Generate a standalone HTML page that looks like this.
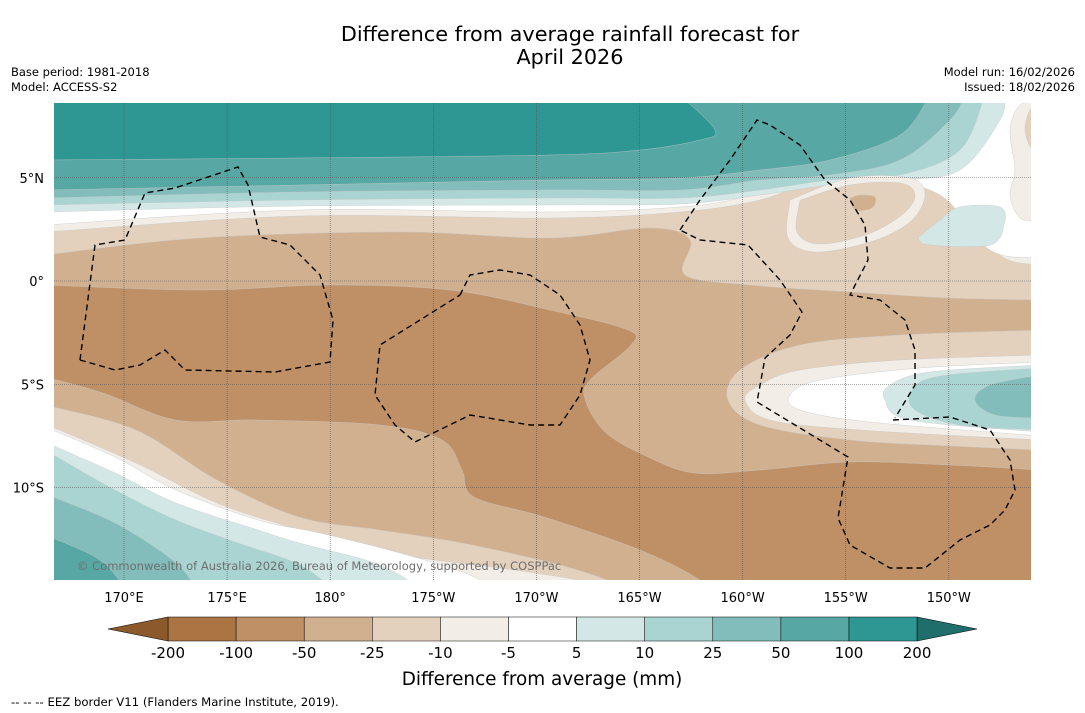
<!DOCTYPE html>
<html><head><meta charset="utf-8">
<style>
body{margin:0;background:#fff;width:1085px;height:713px;overflow:hidden;font-family:"DejaVu Sans","Liberation Sans",sans-serif;}
svg{position:absolute;left:0;top:0;font-family:"DejaVu Sans","Liberation Sans",sans-serif}
</style></head>
<body>
<svg id="s" width="1085" height="713" xmlns="http://www.w3.org/2000/svg">
<defs><clipPath id="mc"><rect x="54" y="103" width="977" height="477"/></clipPath></defs>
<text x="570" y="41" text-anchor="middle" font-size="20.8" fill="#000">Difference from average rainfall forecast for</text>
<text x="570" y="64" text-anchor="middle" font-size="20.8" fill="#000">April 2026</text>
<text x="11" y="76" font-size="11.5">Base period: 1981-2018</text>
<text x="11" y="91" font-size="11.5">Model: ACCESS-S2</text>
<text x="1075" y="76" font-size="11.5" text-anchor="end">Model run: 16/02/2026</text>
<text x="1075" y="91" font-size="11.5" text-anchor="end">Issued: 18/02/2026</text>
<g id="map" clip-path="url(#mc)"></g>
<g id="grid"></g>
<g id="eez"></g>
<text x="77" y="570" font-size="11.5" fill="#6e6e6e">© Commonwealth of Australia 2026, Bureau of Meteorology, supported by COSPPac</text>
<g id="axes"></g>
<g id="cbar"></g>
<text x="542" y="685" text-anchor="middle" font-size="18.4">Difference from average (mm)</text>
<text x="11" y="706" font-size="11.7">--  --  -- EEZ border V11 (Flanders Marine Institute, 2019).</text>
</svg>
<script>
const NS="http://www.w3.org/2000/svg";
const lonLabels=["170°E","175°E","180°","175°W","170°W","165°W","160°W","155°W","150°W"];
const lonValues=[170,175,180,185,190,195,200,205,210];
const latLabels=["5°N","0°","5°S","10°S"];
const latValues=[5,0,-5,-10];
const cbBounds=["-200","-100","-50","-25","-10","-5","5","10","25","50","100","200"];
const cbColors=["#aa7542","#bf9066","#d1b090","#e3d0bd","#f2ede6","#ffffff","#d3e8e6","#a9d4d2","#82bdbb","#57a7a5","#2e9793"];
const cbExtend=["#8c5a2a","#1f6e6b"];
const xOf=lon=>124+(lon-170)*20.62;
const yOf=lat=>281-lat*20.65;
function el(t,a,p){const e=document.createElementNS(NS,t);for(const k in a)e.setAttribute(k,a[k]);(p||document.getElementById('s')).appendChild(e);return e;}
function smooth(pts){let d="M"+pts[0][0]+","+pts[0][1];for(let i=0;i<pts.length-1;i++){const p0=pts[i-1]||pts[i],p1=pts[i],p2=pts[i+1],p3=pts[i+2]||p2;
d+=" C"+(p1[0]+(p2[0]-p0[0])/6)+","+(p1[1]+(p2[1]-p0[1])/6)+" "+(p2[0]-(p3[0]-p1[0])/6)+","+(p2[1]-(p3[1]-p1[1])/6)+" "+p2[0]+","+p2[1];}return d;}
const map=document.getElementById('map');
const C=cbColors;
const N=[[1040,95],[45,95]];
const B=[[45,595]];
const layers=[
 [C[1],[[45,100],[1040,100]],[[1040,590],[45,590]]],
 [C[2],[[45,285],[200,290],[330,285],[450,290],[550,310],[628,330],[630,346],[590,380],[585,399],[605,432],[646,456],[694,473],[760,470],[850,462],[950,465],[1040,470]],N],
 [C[3],[[45,255],[200,238],[400,232],[550,238],[650,228],[690,240],[685,275],[750,285],[850,292],[950,298],[1040,300]],N],
 [C[4],[[45,232],[300,216],[550,218],[680,212],[760,200],[820,180],[900,182],[960,200],[1000,255],[1040,265]],N],
 [C[5],[[45,225],[300,210],[550,212],[680,207],[740,198],[790,182],[870,180],[940,195],[990,250],[1040,258]],N],
 [C[6],[[45,212],[300,206],[550,205],[680,204],[760,195],[830,185],[900,180],[960,170],[1000,120],[1005,95]],[[45,95]]],
 [C[7],[[45,205],[300,200],[550,198],[680,198],[760,190],[830,180],[900,175],[960,150],[985,95]],[[45,95]]],
 [C[8],[[45,198],[300,192],[550,190],[680,190],[760,180],[830,175],[900,160],[950,120],[965,95]],[[45,95]]],
 [C[9],[[45,190],[300,185],[550,180],[680,178],[760,170],[830,160],[900,135],[930,95]],[[45,95]]],
 [C[10],[[45,160],[300,158],[550,155],[640,150],[700,140],[715,130],[680,95]],[[45,95]]],
 // south-left cascade
 [C[2],[[45,377],[103,393],[176,420],[258,420],[380,425],[442,440],[462,470],[474,497],[544,517],[640,550],[700,580],[710,595]],B],
 [C[3],[[45,405],[136,430],[217,480],[299,517],[380,530],[462,543],[560,565],[620,585],[630,595]],B],
 [C[4],[[45,424],[136,463],[217,503],[299,530],[340,543],[420,558],[500,568],[585,582],[590,595]],B],
 [C[5],[[45,427],[115,457],[176,490],[258,520],[320,533],[400,553],[470,575],[500,595]],B],
 [C[6],[[45,442],[115,473],[176,503],[258,530],[299,543],[380,565],[430,595]],B],
 [C[7],[[45,450],[115,490],[176,520],[238,543],[300,565],[340,595]],B],
 [C[8],[[45,494],[115,523],[176,563],[200,595]],B],
 [C[9],[[45,535],[100,560],[130,595]],B],
 // right blob
 [C[3],[[1040,330],[900,335],[800,345],[740,370],[728,400],[760,425],[850,440],[950,446],[1040,450]],[]],
 [C[4],[[1040,355],[900,360],[800,370],[760,385],[745,400],[770,420],[860,430],[1040,440]],[]],
 [C[5],[[1040,362],[920,368],[820,380],[790,395],[800,410],[870,422],[1040,436]],[]],
 [C[6],[[1040,365],[930,372],[890,385],[885,400],[910,420],[1040,432]],[]],
 [C[7],[[1040,368],[940,376],[912,390],[915,410],[960,425],[1040,430]],[]],
 [C[8],[[1040,375],[990,385],[975,400],[995,415],[1040,418]],[]],
 // north-right blobs
 [C[4],[[790,200],[850,178],[910,178],[925,195],[910,222],[870,242],[815,252],[788,238],[790,200]],[]],
 [C[3],[[800,200],[850,185],[900,183],[915,195],[903,214],[868,234],[820,244],[797,232],[800,200]],[]],
 [C[2],[[850,198],[860,195],[875,197],[872,208],[855,210],[850,198]],[]],
 [C[6],[[918,238],[940,220],[960,207],[1000,207],[1004,225],[990,245],[930,245],[918,238]],[]],
 [C[4],[[1040,100],[1020,105],[1010,130],[1015,170],[1010,195],[1020,218],[1040,220]],[]],
 [C[3],[[1040,105],[1030,110],[1025,130],[1032,150],[1040,150]],[]],
];
layers.forEach((L,i)=>{let d=smooth(L[1]);L[2].forEach(p=>d+=" L"+p[0]+","+p[1]);d+=" Z";
 const p=el('path',{d:d,fill:L[0],stroke:"#c8c8c8","stroke-width":0.4},map);
 
 });
const grid=document.getElementById('grid'),axes=document.getElementById('axes');
lonValues.forEach((v,i)=>{const x=xOf(v);
 const l=el('line',{x1:x,x2:x,y1:103,y2:580,stroke:"#555","stroke-width":0.6,"stroke-dasharray":"1,1"},grid);
 
 
 const t=el('text',{x:x,y:602,"text-anchor":"middle","font-size":13},axes);t.textContent=lonLabels[i];
 
 });
latValues.forEach((v,i)=>{const y=yOf(v);
 const l=el('line',{x1:54,x2:1031,y1:y,y2:y,stroke:"#555","stroke-width":0.6,"stroke-dasharray":"1,1"},grid);
 
 
 const t=el('text',{x:44,y:y+5,"text-anchor":"end","font-size":13},axes);t.textContent=latLabels[i];
 
 });
const eezLines=[
 [[80,360],[95,245],[125,240],[145,193],[175,188],[238,167],[248,185],[260,237],[290,245],[320,275],[333,320],[330,362],[275,372],[185,370],[165,350],[140,365],[115,370],[80,360]],
 [[460,295],[470,275],[500,270],[530,275],[560,295],[580,325],[590,360],[580,395],[560,425],[530,425],[470,415],[415,442],[395,425],[375,395],[380,345],[420,320],[460,295]],
 [[680,230],[700,200],[730,160],[757,120],[770,125],[800,145],[825,180],[850,200],[865,225],[868,260],[850,295],[880,300],[905,320],[915,350],[915,385],[895,418]],
 [[893,420],[950,417],[990,430],[1010,460],[1015,490],[1005,510],[990,525],[960,540],[925,568],[890,568],[850,545],[838,518],[848,457],[757,402],[765,358],[790,335],[802,312],[780,280],[748,245],[700,240],[680,230]]];
const eez=document.getElementById('eez');
eezLines.forEach(pts=>{const p=el('polyline',{points:pts.map(p=>p.join(",")).join(" "),fill:"none",stroke:"#000","stroke-width":1.4,"stroke-dasharray":"6,4"},eez);
 
 });
const cb=document.getElementById('cbar');const x0=168,w=68.1,y0=617,h=24;
cbColors.forEach((c,i)=>{const r=el('rect',{x:x0+i*w,y:y0,width:w,height:h,fill:c,stroke:"#000","stroke-width":0.5},cb);
 
 });
const xe=x0+cbColors.length*w;
const t1=el('polygon',{points:`${x0},${y0} 108,${y0+h/2} ${x0},${y0+h}`,fill:cbExtend[0],stroke:"#000","stroke-width":0.5},cb);


const t2=el('polygon',{points:`${xe},${y0} 977,${y0+h/2} ${xe},${y0+h}`,fill:cbExtend[1],stroke:"#000","stroke-width":0.5},cb);


cbBounds.forEach((b,i)=>{const t=el('text',{x:x0+i*w,y:658,"text-anchor":"middle","font-size":15},cb);t.textContent=b;
 
 });
</script>
</body></html>
